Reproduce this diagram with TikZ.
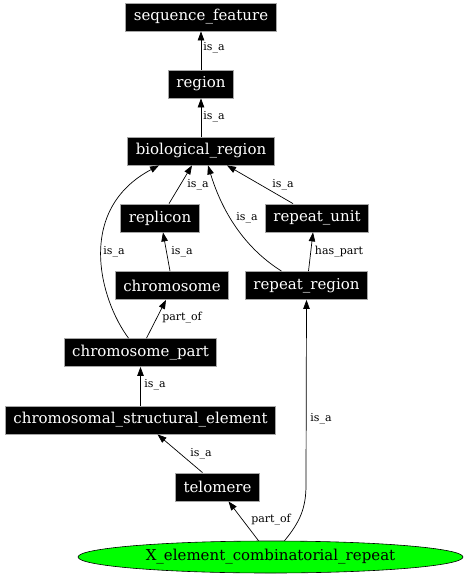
\documentclass[tikz,border=0pt]{standalone}
\usepackage{fontspec}
\setmainfont{DejaVu Serif}
\usepackage{tikz}
\usetikzlibrary{arrows.meta,shapes.geometric}

\tikzset{
    term/.style={rectangle,draw=gray!70,fill=black,text=white,line width=0.8pt,
        inner xsep=8pt,inner ysep=0pt,minimum height=28pt,font=\fontsize{15}{15}\selectfont},
    root/.style={ellipse,draw=black,fill=green,line width=0.6pt,inner sep=0pt,
        minimum width=385pt,minimum height=32pt,font=\fontsize{15}{15}\selectfont},
    rel/.style={draw=black,line width=0.7pt,-{Triangle[length=9pt,width=6.5pt]}},
    rellabel/.style={inner sep=0pt,font=\fontsize{11}{11}\selectfont}
}

\begin{document}
\begin{tikzpicture}[x=1pt,y=-1pt]
    \useasboundingbox[fill=white] (0,0) rectangle (465,576);

    \node[term] (sf) at (201,17) {sequence\_feature};
    \node[term] (region) at (201,84) {region};
    \node[term] (bio) at (201,151) {biological\_region};
    \node[term] (replicon) at (160,218) {replicon};
    \node[term] (unit) at (317,218) {repeat\_unit};
    \node[term] (chrom) at (172,285.5) {chromosome};
    \node[term] (repeat) at (306.5,285.5) {repeat\_region};
    \node[term] (part) at (140.5,352.5) {chromosome\_part};
    \node[term] (cse) at (140.5,420) {chromosomal\_structural\_element};
    \node[term] (telo) at (217.5,487) {telomere};
    \node[root] (xrep) at (270.5,557) {X\_element\_combinatorial\_repeat};

    \draw[rel] (region.north) -- (sf.south) node[rellabel] at (214,48) {is\_a};
    \draw[rel] (bio.north) -- (region.south) node[rellabel] at (214,117) {is\_a};
    \draw[rel] ([xshift=9pt]replicon.north) -- ([xshift=-9pt]bio.south)
        node[rellabel] at (198,185) {is\_a};
    \draw[rel] ([xshift=-24pt]unit.north) -- ([xshift=26pt]bio.south)
        node[rellabel] at (283,185) {is\_a};
    \draw[rel] ([xshift=-25pt]repeat.north) .. controls (240,245) and (220,205) .. ([xshift=7pt]bio.south)
        node[rellabel] at (247,218) {is\_a};
    \draw[rel] ([xshift=-12pt]part.north) .. controls (100,300) and (75,210) .. ([xshift=-42pt]bio.south)
        node[rellabel] at (114,252) {is\_a};
    \draw[rel] ([xshift=-2pt]chrom.north) -- ([xshift=3pt]replicon.south)
        node[rellabel] at (182,252) {is\_a};
    \draw[rel] ([xshift=2pt]repeat.north) -- ([xshift=-4pt]unit.south)
        node[rellabel] at (339,252) {has\_part};
    \draw[rel] ([xshift=6pt]part.north) -- ([xshift=-6pt]chrom.south)
        node[rellabel] at (182,318) {part\_of};
    \draw[rel] (cse.north) -- (cse.north |- part.south) node[rellabel] at (155,385) {is\_a};
    \draw[rel] ([xshift=-15pt]telo.north) -- ([xshift=17pt]cse.south)
        node[rellabel] at (201,454) {is\_a};
    \draw[rel] ([xshift=-12pt]xrep.north) -- ([xshift=11pt]telo.south)
        node[rellabel] at (271,520) {part\_of};
    \draw[rel] ([xshift=14pt]xrep.north) .. controls (300,522) and (306,508) .. (306,485) -- (repeat.south)
        node[rellabel] at (321,419) {is\_a};
\end{tikzpicture}
\end{document}
